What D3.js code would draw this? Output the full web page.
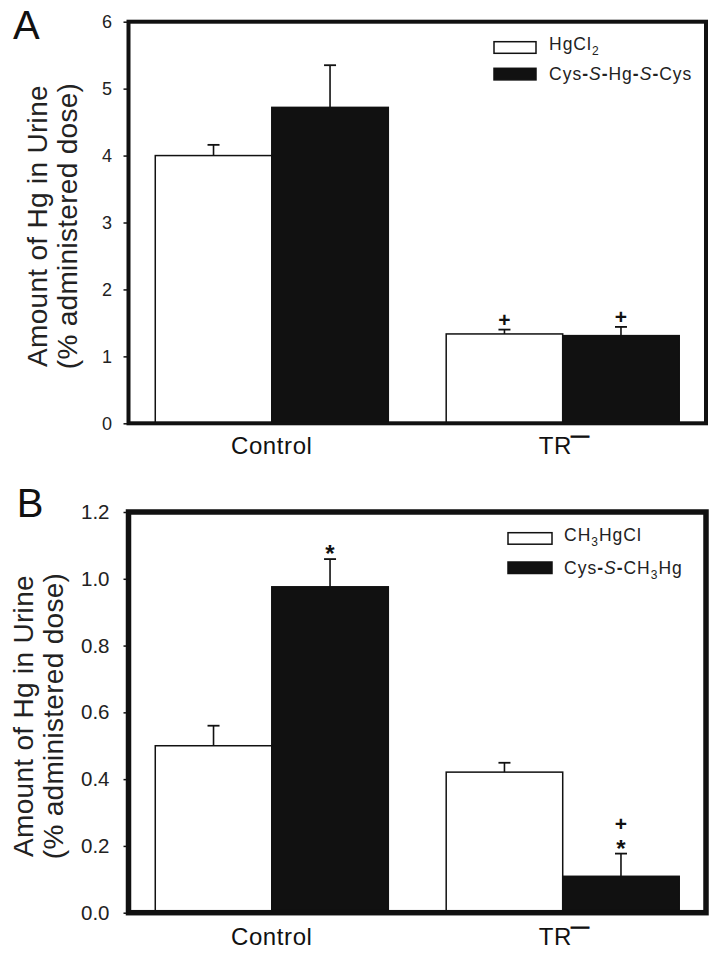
<!DOCTYPE html>
<html>
<head>
<meta charset="utf-8">
<script src="https://cdn.jsdelivr.net/npm/d3@7"></script>
<style>
  html, body { margin: 0; padding: 0; background: #fff; }
  svg { display: block; font-family: "Liberation Sans", Arial, Helvetica, sans-serif; }
</style>
</head>
<body>
<svg id="chart" width="715" height="956"></svg>
<script>
// ---------- DATA ----------
const categories = ["Control", "TR"];
const seriesKeys = ["white", "black"];

// Panel A
const ticksA = [0, 1, 2, 3, 4, 5, 6];
const meanA_HgCl2 = [4.00, 1.335];
const errA_HgCl2 = [0.16, 0.065];
const meanA_CysHgCys = [4.72, 1.31];
const errA_CysHgCys = [0.63, 0.13];
const annotA_HgCl2 = [[], ["+"]];
const annotA_CysHgCys = [[], ["+"]];

// Panel B
const ticksB = [0, 0.2, 0.4, 0.6, 0.8, 1.0, 1.2];
const meanB_CH3HgCl = [0.50, 0.421];
const errB_CH3HgCl = [0.060, 0.028];
const meanB_CysCH3Hg = [0.976, 0.109];
const errB_CysCH3Hg = [0.083, 0.068];
const annotB_CH3HgCl = [[], []];
const annotB_CysCH3Hg = [["*"], ["*", "+"]];

const yTitle1 = "Amount of Hg in Urine";
const yTitle2 = "(% administered dose)";

// ---------- DRAW ----------
const svg = d3.select("#chart");
const INK = "#111";

function panel(o) {
  const g = svg.append("g");
  const left = 128.5, right = 706;
  const y = d3.scaleLinear().domain([0, o.ymax]).range([o.yBottom, o.yTop]);
  const x0 = d3.scaleBand().domain(categories).range([left, right])
    .paddingInner(0.199).paddingOuter(0.092);
  const x1 = d3.scaleBand().domain(seriesKeys).range([0, x0.bandwidth()]);

  const rows = [];
  categories.forEach((c, i) => {
    rows.push({cat: c, key: "white", v: o.white[i], e: o.whiteErr[i], ann: o.whiteAnn[i]});
    rows.push({cat: c, key: "black", v: o.black[i], e: o.blackErr[i], ann: o.blackAnn[i]});
  });

  // bars
  g.selectAll("rect.bar").data(rows).join("rect")
    .attr("class", "bar")
    .attr("x", d => x0(d.cat) + x1(d.key))
    .attr("y", d => y(d.v))
    .attr("width", x1.bandwidth())
    .attr("height", d => y(0) - y(d.v))
    .attr("fill", d => d.key === "white" ? "#fff" : INK)
    .attr("stroke", INK)
    .attr("stroke-width", 1.5);

  // error bars (upper only)
  const cx = d => x0(d.cat) + x1(d.key) + x1.bandwidth() / 2;
  g.selectAll("line.err").data(rows).join("line")
    .attr("x1", cx).attr("x2", cx)
    .attr("y1", d => y(d.v)).attr("y2", d => y(d.v + d.e))
    .attr("stroke", INK).attr("stroke-width", 1.6);
  g.selectAll("line.cap").data(rows).join("line")
    .attr("x1", d => cx(d) - 6).attr("x2", d => cx(d) + 6)
    .attr("y1", d => y(d.v + d.e)).attr("y2", d => y(d.v + d.e))
    .attr("stroke", INK).attr("stroke-width", 1.8);

  // annotations
  rows.forEach(d => {
    let cy = y(d.v + d.e) - o.annGap;
    d.ann.forEach(s => {
      const fs = s === "*" ? 24 : 21;
      const glyphCenter = s === "*" ? -0.6 * fs : -0.33 * fs;
      g.append("text").text(s)
        .attr("x", cx(d)).attr("y", cy - glyphCenter)
        .attr("text-anchor", "middle")
        .attr("font-weight", "bold")
        .attr("font-size", fs)
        .attr("fill", INK);
      cy -= o.annStep;
    });
  });

  // frame
  g.append("rect")
    .attr("x", left).attr("y", o.yTop)
    .attr("width", right - left).attr("height", o.yBottom - o.yTop)
    .attr("fill", "none").attr("stroke", INK).attr("stroke-width", o.frameW);

  // y axis
  const ax = g.append("g").attr("transform", `translate(${left},0)`)
    .call(d3.axisLeft(y).tickValues(o.ticks).tickSize(5).tickPadding(o.tickPad)
      .tickFormat(o.fmt));
  ax.select(".domain").remove();
  ax.selectAll(".tick line").attr("stroke", INK).attr("stroke-width", 1.5);
  ax.selectAll(".tick text").attr("font-size", o.tickFont).attr("fill", "#222")
    .attr("font-family", "'Liberation Sans', Arial, sans-serif");

  // category labels
  categories.forEach(c => {
    const mid = x0(c) + x0.bandwidth() / 2;
    const t = g.append("text")
      .attr("y", o.catY)
      .attr("font-size", 24)
      .attr("letter-spacing", 0.6)
      .attr("fill", INK);
    if (c === "TR") {
      t.attr("x", mid - 24).attr("text-anchor", "start");
      t.append("tspan").text("TR");
      t.append("tspan").text("\u2014").attr("font-size", 18).attr("dx", -1)
        .attr("dy", -13).attr("stroke", INK).attr("stroke-width", 0.9);
    } else {
      t.attr("x", mid).attr("text-anchor", "middle").text(c);
    }
  });

  // y title
  const yc = o.titleY;
  g.append("text").attr("transform", `translate(${o.title1X},${yc}) rotate(-90)`)
    .attr("text-anchor", "middle").attr("font-size", 28).attr("fill", "#222")
    .attr("letter-spacing", 0.3)
    .text(yTitle1);
  g.append("text").attr("transform", `translate(${o.title2X},${yc}) rotate(-90)`)
    .attr("text-anchor", "middle").attr("font-size", 28).attr("fill", "#222")
    .attr("letter-spacing", 0.3)
    .text(yTitle2);

  // panel letter
  g.append("text").attr("x", o.letterX).attr("y", o.letterY)
    .attr("font-size", 40).attr("fill", INK).text(o.letter);

  // legend
  const lg = g.append("g");
  lg.append("rect").attr("x", o.legX).attr("y", o.legY1)
    .attr("width", o.legW).attr("height", o.legH)
    .attr("fill", "#fff").attr("stroke", INK).attr("stroke-width", 1.5);
  lg.append("rect").attr("x", o.legX).attr("y", o.legY2)
    .attr("width", o.legW).attr("height", o.legH)
    .attr("fill", INK).attr("stroke", INK).attr("stroke-width", 1.5);
  const l1 = lg.append("text").attr("x", o.legTextX).attr("y", o.legBase1)
    .attr("font-size", 17.5).attr("letter-spacing", 1).attr("fill", "#222");
  o.leg1(l1);
  const l2 = lg.append("text").attr("x", o.legTextX).attr("y", o.legBase2)
    .attr("font-size", 17.5).attr("letter-spacing", 1).attr("fill", "#222");
  o.leg2(l2);
}

function sub(t, s) {
  t.append("tspan").text(s).attr("font-size", 12).attr("dy", 5);
  return t.append("tspan").attr("dy", -5);
}
function hyph(t) { t.append("tspan").text("-").attr("font-weight", "bold"); }
function ital(t, s) { t.append("tspan").text(s).attr("font-style", "italic"); }

panel({
  letter: "A", letterX: 13, letterY: 39,
  ymax: 6, yTop: 21.7, yBottom: 423.3, frameW: 4,
  ticks: ticksA, fmt: d3.format("d"), tickFont: 18, tickPad: 11.5,
  white: meanA_HgCl2, whiteErr: errA_HgCl2, whiteAnn: annotA_HgCl2,
  black: meanA_CysHgCys, blackErr: errA_CysHgCys, blackAnn: annotA_CysHgCys,
  annGap: 10, annStep: 19,
  catY: 453.5,
  titleY: 226, title1X: 47, title2X: 77,
  legX: 494, legW: 42, legH: 11.6, legY1: 41.7, legY2: 68.3,
  legTextX: 549, legBase1: 49.5, legBase2: 80,
  leg1: t => { t.append("tspan").text("HgCl"); sub(t, "2"); },
  leg2: t => {
    t.append("tspan").text("Cys"); hyph(t); ital(t, "S"); hyph(t);
    t.append("tspan").text("Hg"); hyph(t); ital(t, "S"); hyph(t);
    t.append("tspan").text("Cys");
  }
});

panel({
  letter: "B", letterX: 16.7, letterY: 516.7,
  ymax: 1.2, yTop: 512, yBottom: 912.7, frameW: 5.5,
  ticks: ticksB, fmt: d3.format(".1f"), tickFont: 20.5, tickPad: 14,
  white: meanB_CH3HgCl, whiteErr: errB_CH3HgCl, whiteAnn: annotB_CH3HgCl,
  black: meanB_CysCH3Hg, blackErr: errB_CysCH3Hg, blackAnn: annotB_CysCH3Hg,
  annGap: 11, annStep: 19,
  catY: 945,
  titleY: 716, title1X: 33, title2X: 63,
  legX: 508, legW: 44, legH: 11.5, legY1: 532.7, legY2: 562,
  legTextX: 564, legBase1: 541, legBase2: 574,
  leg1: t => { t.append("tspan").text("CH"); sub(t, "3").text("HgCl"); },
  leg2: t => {
    t.append("tspan").text("Cys"); hyph(t); ital(t, "S"); hyph(t);
    t.append("tspan").text("CH"); sub(t, "3").text("Hg");
  }
});
</script>
</body>
</html>
